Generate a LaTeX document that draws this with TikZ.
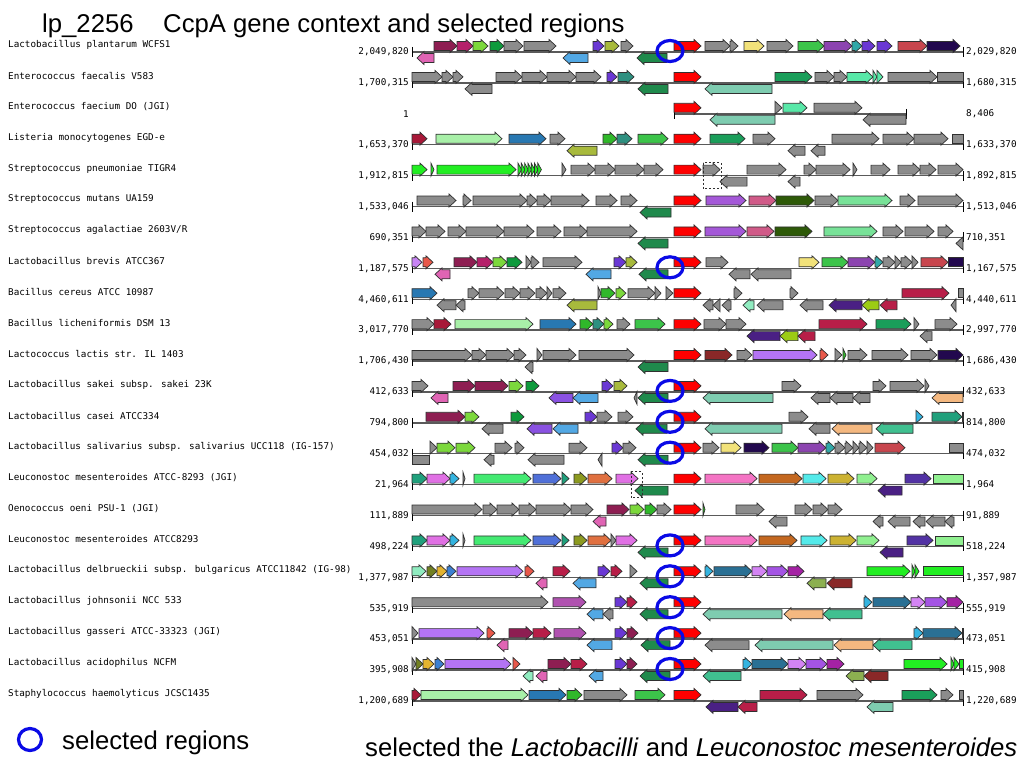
\documentclass[tikz,border=0pt]{standalone}
\usepackage{fontspec}
\setmainfont{Liberation Sans}
\newfontfamily\monof{DejaVu Sans Mono}
\definecolor{edge}{HTML}{303030}
\definecolor{cR}{HTML}{FF0000}\definecolor{sg}{HTML}{1F8A4C}\definecolor{gy}{HTML}{8C8C8C}
\definecolor{hp}{HTML}{E064B4}\definecolor{mr}{HTML}{8E1E52}\definecolor{cr}{HTML}{B5206A}
\definecolor{lm}{HTML}{7CD83C}\definecolor{gn}{HTML}{0E9A3C}\definecolor{sb}{HTML}{52A8E4}
\definecolor{vi}{HTML}{6A38D4}\definecolor{ol}{HTML}{A8BA3C}\definecolor{kh}{HTML}{F2E27A}
\definecolor{g2}{HTML}{3CC44A}\definecolor{pu}{HTML}{8C44B0}\definecolor{tl}{HTML}{30A8A8}
\definecolor{ir}{HTML}{C8464E}\definecolor{nv}{HTML}{22084E}\definecolor{sf}{HTML}{1A9E5A}
\definecolor{t2}{HTML}{2E9080}\definecolor{mi}{HTML}{58E8A8}\definecolor{ma}{HTML}{7ECCB0}
\definecolor{fb}{HTML}{A81838}\definecolor{pg}{HTML}{A8F0A8}\definecolor{st}{HTML}{2878B2}
\definecolor{g3}{HTML}{30B82A}\definecolor{lb}{HTML}{22EE22}\definecolor{op}{HTML}{A458D8}
\definecolor{pv}{HTML}{D05A88}\definecolor{do}{HTML}{2E5A08}\definecolor{lg}{HTML}{78E298}
\definecolor{oc}{HTML}{C884F4}\definecolor{tm}{HTML}{E8584A}\definecolor{aq}{HTML}{90ECC0}
\definecolor{ig}{HTML}{4A2084}\definecolor{yg}{HTML}{9CCC14}\definecolor{cm}{HTML}{B81E48}
\definecolor{mb}{HTML}{8A2828}\definecolor{mo}{HTML}{B474F4}\definecolor{mp}{HTML}{8A52E2}
\definecolor{sa}{HTML}{F4B880}\definecolor{ds}{HTML}{34B4E0}\definecolor{tg}{HTML}{20A07C}
\definecolor{or}{HTML}{E070E4}\definecolor{sp}{HTML}{44EA72}\definecolor{rb}{HTML}{5070D8}
\definecolor{o2}{HTML}{8C9A20}\definecolor{co}{HTML}{E07040}\definecolor{h2}{HTML}{F474C4}
\definecolor{ch}{HTML}{C46820}\definecolor{cy}{HTML}{54EAEA}\definecolor{gr}{HTML}{CCB232}
\definecolor{l2}{HTML}{90F090}\definecolor{dsb}{HTML}{5232A4}\definecolor{o3}{HTML}{728022}
\definecolor{gd}{HTML}{E4B430}\definecolor{s2}{HTML}{3C80D2}\definecolor{tb}{HTML}{2A7094}
\definecolor{o4}{HTML}{D484F4}\definecolor{m2}{HTML}{A454E4}\definecolor{dm}{HTML}{A422A4}
\definecolor{yd}{HTML}{8CB050}\definecolor{du}{HTML}{B052B0}\definecolor{ms}{HTML}{40C090}
\definecolor{selblue}{RGB}{10,10,230}
\tikzset{
  gene/.style={draw=edge,line width=0.7pt,line join=miter},
  chrom/.style={draw={rgb,255:red,90;green,90;blue,90},line width=1.4pt},
  endtick/.style={draw=black,line width=0.8pt},
  nm/.style={font=\monof\fontsize{9.3}{10}\selectfont,inner sep=0pt,anchor=west},
  num/.style={font=\monof\fontsize{9.3}{10}\selectfont,inner sep=0pt},
  selring/.style={draw=selblue,line width=3.2pt},
  dbox/.style={draw=edge,dashed,line width=0.6pt,dash pattern=on 2pt off 2pt},
  big/.style={font=\fontsize{25.7}{28}\selectfont,inner sep=0pt}
}
\newcommand\F[3]{\pgfmathsetmacro\hx{max(#1,#2-7)}%
  \filldraw[gene,fill=#3] (#1,\ry-10.5) -- (\hx,\ry-10.5) -- (\hx,\ry-12.5) -- (#2,\ry-6) -- (\hx,\ry+0.5) -- (\hx,\ry-1.5) -- (#1,\ry-1.5) -- cycle;}
\newcommand\R[3]{\pgfmathsetmacro\hx{min(#2,#1+7)}%
  \filldraw[gene,fill=#3] (#2,\ry+1.5) -- (\hx,\ry+1.5) -- (\hx,\ry-0.5) -- (#1,\ry+6) -- (\hx,\ry+12.5) -- (\hx,\ry+10.5) -- (#2,\ry+10.5) -- cycle;}
\newcommand\BF[3]{\filldraw[gene,fill=#3] (#1,\ry-10.5) rectangle (#2,\ry-1.5);}
\newcommand\BR[3]{\filldraw[gene,fill=#3] (#1,\ry+1.5) rectangle (#2,\ry+10.5);}
\newcommand\Row[6]{\pgfmathsetmacro\ry{52+30.9*(#1-1)}%
  \node[nm] (name#1) at (8,\ry-7) {#2};
  \node[num,anchor=east] (ln#1) at (409,\ry) {#3};
  \node[num,anchor=west] (rn#1) at (966,\ry) {#4};
  \draw[chrom] (#5,\ry) -- (#6,\ry);
  \draw[endtick] (#5,\ry-5) -- (#5,\ry+5);
  \draw[endtick] (#6,\ry-5) -- (#6,\ry+5);}
\newcommand\Sel[1]{\pgfmathsetmacro\ry{52+30.9*(#1-1)}%
  \draw[selring] (670,\ry-1) ellipse [x radius=13, y radius=10.5];}
\begin{document}
\begin{tikzpicture}[x=1pt,y=-1pt]
\useasboundingbox (0,0) rectangle (1024,768);
\fill[white] (0,0) rectangle (1024,768);
\node[big,anchor=base west] (t1) at (42,33) {lp\_2256};
\node[big,anchor=base west] (t2) at (163,33) {CcpA gene context and selected regions};
% 1
\Row{1}{Lactobacillus plantarum WCFS1}{2,049,820}{2,029,820}{412}{963}
\R{417}{434}{hp}\F{434}{457}{mr}\F{457}{473}{cr}\F{473}{488}{lm}\F{490}{504}{gn}\F{504}{523}{gy}\F{524}{556}{gy}\R{563}{588}{sb}\F{593}{604}{vi}\F{605}{619}{ol}\F{621}{633}{gy}\R{637}{667}{sg}\F{674}{701}{cR}\F{705}{730}{gy}\F{730}{738}{gy}\F{744}{764}{kh}\F{767}{793}{gy}\F{798}{824}{g2}\F{824}{852}{pu}\F{852}{862}{tl}\F{862}{875}{vi}\F{877}{892}{vi}\F{898}{927}{ir}\F{927}{960}{nv}
% 2
\Row{2}{Enterococcus faecalis V583}{1,700,315}{1,680,315}{412}{963}
\F{412}{442}{gy}\F{442}{453}{gy}\F{453}{463}{gy}\R{465}{492}{gy}\F{496}{522}{gy}\F{522}{547}{gy}\F{547}{576}{gy}\F{576}{601}{gy}\F{607}{617}{vi}\F{618}{634}{t2}\R{638}{668}{sg}\F{674}{701}{cR}\R{705}{772}{ma}\F{775}{812}{sf}\F{815}{834}{gy}\F{834}{847}{gy}\F{847}{873}{mi}\F{873}{877}{mi}\F{877}{883}{mi}\F{888}{937}{gy}\BF{937}{963}{gy}
% 3
\Row{3}{Enterococcus faecium DO (JGI)}{1}{8,406}{674}{906}
\F{674}{701}{cR}\R{710}{775}{ma}\F{775}{782}{gy}\F{783}{807}{mi}\F{814}{862}{gy}\R{863}{906}{gy}
% 4
\Row{4}{Listeria monocytogenes EGD-e}{1,653,370}{1,633,370}{412}{963}
\F{412}{427}{fb}\F{436}{502}{pg}\F{509}{546}{st}\F{550}{565}{gy}\R{567}{597}{ol}\F{603}{617}{g3}\F{617}{632}{t2}\F{638}{668}{g2}\F{674}{701}{cR}\F{710}{745}{sf}\F{753}{775}{gy}\R{788}{805}{gy}\R{811}{825}{gy}\F{832}{879}{gy}\F{883}{914}{gy}\F{914}{948}{gy}\BF{952}{963}{gy}
% 5
\Row{5}{Streptococcus pneumoniae TIGR4}{1,912,815}{1,892,815}{412}{963}
\F{412}{427}{lb}\F{431}{434}{lb}\F{437}{516}{lb}
\foreach \a in {518,521.3,...,541} {\F{\a}{\a+3.6}{lb}}
\F{562}{566}{gy}\F{571}{595}{gy}\F{595}{615}{gy}\F{615}{644}{gy}\F{644}{663}{gy}\F{674}{701}{cR}\F{703}{720}{gy}\R{720}{747}{gy}\F{747}{786}{gy}\R{788}{800}{gy}\F{804}{816}{gy}\F{816}{850}{gy}\F{853}{857}{gy}\F{871}{890}{gy}\F{898}{920}{gy}\F{920}{936}{gy}\F{938}{963}{gy}
\draw[dbox] (703,\ry-13) rectangle (721,\ry+13);
% 6
\Row{6}{Streptococcus mutans UA159}{1,533,046}{1,513,046}{412}{963}
\F{417}{456}{gy}\F{463}{471}{gy}\F{473}{527}{gy}\F{527}{537}{gy}\F{537}{551}{gy}\F{551}{589}{gy}\F{596}{617}{gy}\F{621}{637}{gy}\R{640}{671}{sg}\F{674}{701}{cR}\F{706}{746}{op}\F{749}{776}{pv}\F{776}{814}{do}\F{815}{838}{gy}\F{838}{892}{lg}\F{900}{915}{gy}\F{918}{963}{gy}
% 7
\Row{7}{Streptococcus agalactiae 2603V/R}{690,351}{710,351}{412}{963}
\F{412}{426}{gy}\F{426}{445}{gy}\F{448}{466}{gy}\F{466}{504}{gy}\F{504}{534}{gy}\F{537}{561}{gy}\F{564}{587}{gy}\F{587}{637}{gy}\R{638}{668}{sg}\F{674}{701}{cR}\F{705}{746}{op}\F{747}{774}{pv}\F{775}{812}{do}\F{824}{877}{lg}\F{883}{903}{gy}\F{905}{934}{gy}\F{938}{953}{gy}\R{956}{963}{gy}
% 8
\Row{8}{Lactobacillus brevis ATCC367}{1,187,575}{1,167,575}{412}{963}
\F{412}{422}{oc}\F{423}{433}{tm}\R{435}{450}{hp}\F{454}{477}{mr}\F{477}{493}{cr}\F{493}{507}{lm}\F{507}{522}{gn}\F{526}{531}{gy}\F{531}{539}{gy}\F{543}{582}{gy}\R{586}{611}{sb}\F{614}{626}{vi}\F{626}{637}{ol}\R{639}{668}{sg}\F{674}{701}{cR}\F{706}{728}{gy}\R{729}{750}{gy}\R{751}{791}{gy}\F{799}{819}{kh}\F{822}{848}{g2}\F{848}{875}{pu}\F{875}{883}{tl}\F{883}{895}{gy}\F{895}{901}{gy}\F{901}{912}{gy}\F{912}{918}{gy}\F{921}{948}{ir}\BF{948}{963}{nv}
% 9
\Row{9}{Bacillus cereus ATCC 10987}{4,460,611}{4,440,611}{412}{963}
\F{412}{437}{st}\R{437}{456}{gy}\R{456}{465}{gy}\F{468}{479}{gy}\F{479}{504}{gy}\F{505}{520}{gy}\F{520}{535}{gy}\F{536}{547}{gy}\F{547}{552}{gy}\F{553}{566}{gy}\R{567}{597}{ol}\F{598}{601}{gy}\F{601}{615}{g3}\F{616}{626}{lm}\F{628}{655}{gy}\F{655}{661}{gy}\F{666}{673}{gy}\F{674}{701}{cR}\R{703}{713}{gy}\R{713}{720}{gy}\R{722}{731}{gy}\F{734}{742}{gy}\R{743}{754}{aq}\R{757}{783}{gy}\F{790}{798}{gy}\R{800}{823}{gy}\R{829}{862}{ig}\R{862}{879}{yg}\R{880}{897}{cm}\F{902}{949}{cm}\R{951}{956}{gy}\BF{958}{963}{gy}
% 10
\Row{10}{Bacillus licheniformis DSM 13}{3,017,770}{2,997,770}{412}{963}
\F{412}{434}{gy}\F{434}{451}{fb}\F{455}{533}{pg}\F{540}{576}{st}\F{580}{593}{g3}\F{593}{604}{t2}\F{604}{613}{lm}\F{617}{630}{gy}\F{635}{665}{g2}\F{674}{701}{cR}\F{704}{726}{gy}\F{726}{746}{gy}\R{747}{780}{ig}\R{780}{798}{yg}\R{798}{815}{cm}\F{819}{867}{cm}\F{876}{911}{sf}\F{914}{919}{gy}\R{920}{932}{gy}\F{935}{957}{gy}
% 11
\Row{11}{Lactococcus lactis str. IL 1403}{1,706,430}{1,686,430}{412}{963}
\F{412}{472}{gy}\F{472}{486}{gy}\F{486}{514}{gy}\F{514}{526}{gy}\R{525}{533}{gy}\F{537}{542}{gy}\F{543}{576}{gy}\F{579}{634}{gy}\R{638}{668}{sg}\F{674}{701}{cR}\F{705}{732}{mb}\F{737}{752}{gy}\F{753}{817}{mo}\F{820}{828}{tm}\F{835}{842}{gy}\F{843}{846}{g3}\F{848}{867}{gy}\F{872}{908}{gy}\F{911}{937}{gy}\F{938}{963}{nv}
% 12
\Row{12}{Lactobacillus sakei subsp. sakei 23K}{412,633}{432,633}{412}{963}
\F{412}{428}{gy}\R{431}{448}{hp}\F{453}{475}{mr}\F{475}{508}{mr}\F{509}{523}{lm}\F{526}{539}{gn}\R{549}{573}{mp}\R{573}{598}{sb}\F{602}{613}{vi}\F{614}{627}{ol}\R{634}{637}{gy}\R{638}{668}{sg}\F{674}{701}{cR}\R{703}{773}{ma}\F{782}{801}{gy}\R{811}{830}{gy}\R{830}{853}{gy}\R{853}{870}{gy}\F{873}{886}{gy}\F{890}{924}{gy}\F{925}{929}{gy}\R{932}{963}{sa}
% 13
\Row{13}{Lactobacillus casei ATCC334}{794,800}{814,800}{412}{963}
\F{426}{465}{mr}\F{465}{479}{lm}\R{482}{503}{gy}\F{511}{524}{gn}\R{527}{552}{mp}\R{553}{578}{sb}\F{585}{597}{vi}\F{597}{612}{gy}\F{618}{633}{gy}\R{636}{667}{sg}\F{674}{701}{cR}\R{705}{782}{ma}\F{789}{808}{gy}\R{809}{830}{gy}\R{832}{872}{sa}\R{876}{913}{ms}\F{916}{923}{ds}\F{932}{962}{tg}\BF{962}{963}{oc}
% 14
\Row{14}{Lactobacillus salivarius subsp. salivarius UCC118 (IG-157)}{454,032}{474,032}{412}{963}
\BR{412}{429}{gy}\F{430}{437}{gy}\F{437}{455}{lm}\F{456}{475}{lm}\R{484}{494}{gy}\F{495}{512}{gy}\F{515}{524}{gy}\R{528}{564}{gy}\F{569}{587}{gy}\R{598}{602}{gy}\F{612}{623}{vi}\F{623}{636}{gy}\R{638}{668}{sg}\F{674}{701}{cR}\F{703}{719}{gy}\F{721}{741}{kh}\F{744}{769}{nv}\F{772}{798}{g2}\F{798}{826}{pu}\F{826}{835}{tl}\F{835}{845}{gy}\F{845}{853}{gy}\F{853}{859}{gy}\F{859}{867}{gy}\F{867}{873}{gy}\F{875}{905}{ir}\BF{949}{963}{gy}
% 15
\Row{15}{Leuconostoc mesenteroides ATCC-8293 (JGI)}{21,964}{1,964}{412}{963}
\F{412}{427}{tg}\F{427}{450}{or}\F{450}{459}{ds}\F{463}{465}{gy}\F{474}{531}{sp}\F{533}{561}{rb}\F{562}{569}{tg}\F{574}{587}{o2}\F{588}{612}{co}\F{616}{638}{or}\R{635}{668}{sg}\F{674}{701}{cR}\F{705}{757}{h2}\F{759}{802}{ch}\F{803}{826}{cy}\F{828}{854}{gr}\F{857}{877}{l2}\R{878}{902}{ig}\F{905}{931}{dsb}\BF{933}{963}{l2}
\draw[dbox] (631,\ry-13) rectangle (642,\ry+13);
% 16
\Row{16}{Oenococcus oeni PSU-1 (JGI)}{111,889}{91,889}{412}{963}
\F{412}{482}{gy}\F{483}{497}{gy}\F{497}{519}{gy}\F{519}{536}{gy}\F{536}{571}{gy}\F{571}{593}{gy}\R{593}{606}{hp}\F{607}{629}{mr}\F{630}{644}{lm}\F{645}{657}{g3}\F{657}{671}{gy}\F{674}{701}{cR}\F{703}{705}{g3}\F{736}{764}{gy}\R{769}{787}{gy}\F{795}{812}{gy}\F{813}{828}{gy}\F{828}{842}{gy}\R{873}{883}{gy}\R{888}{910}{gy}\R{913}{925}{gy}\R{926}{945}{gy}\R{945}{954}{gy}
% 17
\Row{17}{Leuconostoc mesenteroides ATCC8293}{498,224}{518,224}{412}{963}
\F{412}{427}{tg}\F{427}{450}{or}\F{450}{459}{ds}\F{463}{465}{gy}\F{474}{531}{sp}\F{533}{561}{rb}\F{562}{569}{tg}\F{574}{587}{o2}\F{588}{611}{co}\F{611}{616}{gy}\F{616}{637}{or}\R{638}{668}{sg}\F{674}{701}{cR}\F{705}{757}{h2}\F{759}{797}{ch}\F{801}{827}{cy}\F{830}{856}{gr}\F{857}{879}{l2}\R{880}{903}{ig}\F{907}{933}{dsb}\BF{935}{963}{l2}
% 18
\Row{18}{Lactobacillus delbrueckii subsp. bulgaricus ATCC11842 (IG-98)}{1,377,987}{1,357,987}{412}{963}
\F{412}{426}{aq}\F{427}{437}{o3}\F{437}{447}{gd}\F{447}{456}{s2}\F{457}{523}{mo}\F{525}{534}{tm}\R{536}{547}{hp}\F{553}{570}{cm}\R{573}{596}{sb}\F{598}{610}{vi}\F{611}{622}{cm}\F{630}{637}{gy}\R{640}{668}{sg}\F{674}{701}{cR}\F{705}{713}{ds}\F{714}{752}{tb}\F{752}{767}{o4}\F{767}{788}{m2}\F{788}{804}{dm}\R{807}{826}{yd}\R{827}{852}{mb}\F{867}{910}{lb}\F{912}{915}{lb}\F{915}{919}{lb}\BF{923}{963}{lb}
% 19
\Row{19}{Lactobacillus johnsonii NCC 533}{535,919}{555,919}{412}{963}
\F{412}{548}{gy}\F{553}{586}{du}\R{587}{603}{sb}\R{603}{613}{gy}\F{615}{627}{vi}\F{627}{637}{cm}\R{640}{668}{sg}\F{674}{701}{cR}\R{703}{782}{ma}\R{784}{823}{sa}\R{823}{862}{ms}\F{864}{872}{ds}\F{873}{911}{tb}\F{911}{925}{o4}\F{925}{947}{m2}\F{947}{963}{dm}
% 20
\Row{20}{Lactobacillus gasseri ATCC-33323 (JGI)}{453,051}{473,051}{412}{963}
\F{412}{418}{gy}\F{419}{484}{mo}\F{487}{495}{tm}\R{497}{508}{hp}\F{509}{533}{mr}\F{533}{551}{cm}\F{554}{586}{du}\R{587}{612}{sb}\F{615}{627}{vi}\F{627}{638}{mr}\R{641}{670}{sg}\F{674}{701}{cR}\R{705}{749}{gy}\R{755}{833}{ma}\R{834}{873}{sa}\R{873}{912}{ms}\F{914}{923}{ds}\F{923}{962}{tb}\BF{962}{963}{oc}
% 21
\Row{21}{Lactobacillus acidophilus NCFM}{395,908}{415,908}{412}{963}
\F{412}{416}{gy}\F{416}{423}{o3}\F{423}{434}{gd}\F{435}{444}{s2}\F{445}{511}{mo}\F{513}{520}{tm}\R{523}{533}{aq}\R{536}{547}{hp}\F{548}{571}{mr}\F{571}{587}{cm}\R{589}{603}{sb}\F{615}{627}{vi}\F{627}{637}{mr}\R{640}{670}{sg}\F{674}{701}{cR}\R{703}{741}{ms}\F{743}{752}{ds}\F{752}{788}{tb}\F{788}{806}{o4}\F{806}{827}{m2}\F{827}{844}{dm}\R{846}{864}{yd}\R{864}{888}{mb}\F{904}{947}{lb}\F{951}{954}{lb}\F{954}{959}{lb}\BF{959}{963}{lb}
% 22
\Row{22}{Staphylococcus haemolyticus JCSC1435}{1,200,689}{1,220,689}{412}{963}
\F{412}{421}{fb}\F{421}{528}{pg}\F{529}{566}{st}\F{567}{582}{g3}\F{584}{627}{gy}\F{635}{665}{g2}\F{674}{701}{cR}\R{706}{738}{ig}\R{738}{757}{cm}\F{760}{807}{cm}\F{817}{863}{gy}\R{867}{893}{ma}\F{902}{937}{sf}\F{941}{953}{gy}\BF{959}{963}{gy}
% selected regions
\Sel{1}\Sel{8}\Sel{12}\Sel{13}\Sel{14}\Sel{17}\Sel{18}\Sel{19}\Sel{20}\Sel{21}
% legend
\draw[selring] (30,739.5) ellipse [x radius=11.5, y radius=11];
\node[big,anchor=base west] (leg) at (62,749) {selected regions};
\node[big,anchor=base west] (note) at (365,756) {selected the \textit{Lactobacilli} and \textit{Leuconostoc mesenteroides}};
\end{tikzpicture}
\end{document}
